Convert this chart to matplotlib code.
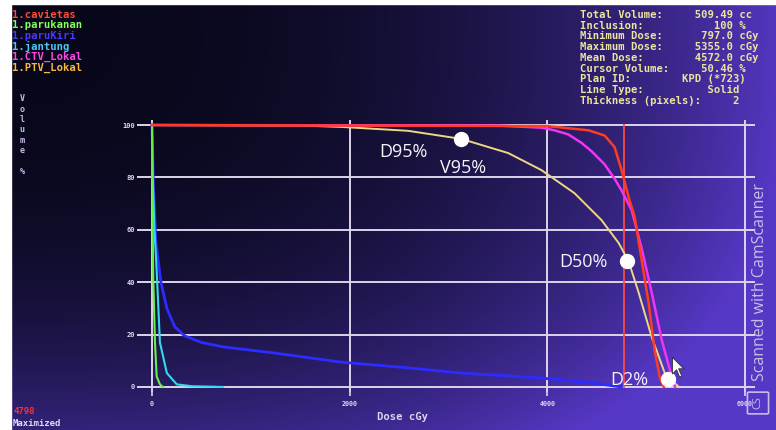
import numpy as np
import matplotlib.pyplot as plt
from matplotlib.patches import Rectangle, FancyBboxPatch
from matplotlib.path import Path

#%% DVH curves (dose cGy, volume %)
cavietas_dose = [0, 4000, 4416, 4579, 4680, 4751, 4822, 4883, 4954, 5025, 5086, 5137, 5177]
cavietas_vol = [100, 99.6, 98, 96, 91.6, 82.8, 72.5, 65, 48.5, 32, 14, 3.8, 0]

ctv_dose = [0, 3500, 3940, 4071, 4213, 4345, 4447, 4579, 4680, 4751, 4853, 4954, 5056, 5157, 5259, 5290]
ctv_vol = [100, 99.8, 99, 98, 96.4, 93.2, 90, 85, 79.5, 75, 67.5, 53, 36, 18, 3.8, 0]

ptv_dose = [0, 1500, 1910, 2590, 3130, 3604, 3940, 4274, 4548, 4721, 4822, 4924, 5056, 5188, 5330]
ptv_vol = [100, 99.8, 99.3, 97.8, 94.7, 89.3, 82.8, 74, 63.7, 55, 48, 36, 19, 5.3, 0]

parukiri_dose = [0, 15, 40, 90, 150, 230, 330, 500, 720, 1230, 1910, 2590, 3130, 3940, 4400, 4750]
parukiri_vol = [100, 75, 55, 40, 30, 23, 19.5, 17, 15.3, 13, 9.5, 7.3, 5.3, 3.4, 1.8, 0]

parukanan_dose = [0, 3, 7, 12, 30, 47, 80, 110]
parukanan_vol = [100, 80, 60, 42, 17, 4, 1, 0]

jantung_dose = [0, 8, 25, 50, 80, 150, 250, 400, 720]
jantung_vol = [100, 80, 60, 42, 17, 5.3, 1, 0.3, 0]

cursor_dose = 4780

# dose points marked on the PTV curve
mark_labels = ['D95%', 'D50%', 'D2%']
mark_dose = [3130, 4810, 5225]
mark_vol = [94.6, 48, 3]

x_ticks = [0, 2000, 4000, 6000]
y_ticks = [0, 20, 40, 60, 80, 100]

legend_names = ['1.cavietas', '1.parukanan', '1.paruKiri', '1.jantung', '1.CTV_Lokal', '1.PTV_Lokal']
legend_colors = ['#ff4a34', '#86ff5a', '#4a36ff', '#4ccaf2', '#ff46e6', '#f6b848']

info_labels = ['Total Volume:', 'Inclusion:', 'Minimum Dose:', 'Maximum Dose:', 'Mean Dose:',
               'Cursor Volume:', 'Plan ID:', 'Line Type:', 'Thickness (pixels):']
info_values = ['509.49', '100', '797.0', '5355.0', '4572.0', '50.46', 'KPD (*723)', 'Solid', '2']
info_units = ['cc', '%', 'cGy', 'cGy', 'cGy', '%', '', '', '']
info_end = [24, 24, 24, 24, 24, 24, 26, 25, 25]

#%% figure + photo-like background
W, H = 776, 430
fig = plt.figure(figsize=(W / 100, H / 100), dpi=100)

bg = fig.add_axes([0, 0, 1, 1])
yy, xx = np.mgrid[0:1:200j, 0:1:400j]
w = np.clip(0.95 * xx ** 2.6 + 0.55 * yy ** 3, 0, 1)
dark = np.array([0.03, 0.03, 0.10])
purple = np.array([0.34, 0.22, 0.78])
bg.imshow(dark + (purple - dark) * w[..., None], extent=[0, 1, 0, 1], origin='upper', aspect='auto')
bg.add_patch(Rectangle((0, 0), 11 / W, 1, color='white', transform=bg.transAxes))
bg.add_patch(Rectangle((0, 1 - 4 / H), 1, 4 / H, color='white', transform=bg.transAxes))
bg.set_xlim(0, 1)
bg.set_ylim(0, 1)
bg.axis('off')

#%% DVH axes
ax = fig.add_axes([137.2 / W, 1 - 392.2 / H, 617.7 / W, 272.4 / H])
ax.set_facecolor('none')
ax.set_xlim(-150, 6100)
ax.set_ylim(-2, 102)
for s in ax.spines.values():
    s.set_visible(False)
grid_c = '#ddd4ea'
ax.set_xticks(x_ticks)
ax.set_yticks(y_ticks)
ax.grid(True, color=grid_c, lw=1.4)
ax.set_axisbelow(True)
ax.tick_params(axis='x', length=3, color=grid_c, width=1.2, pad=3, labelsize=4.8, labelcolor='#e0d8ec')
ax.tick_params(axis='y', length=0, pad=1.5, labelsize=5, labelcolor='#e0d8ec')
for lab in ax.get_xticklabels() + ax.get_yticklabels():
    lab.set_family('DejaVu Sans Mono')
    lab.set_fontweight('bold')

ax.plot(parukiri_dose, parukiri_vol, color='#2c2cff', lw=2.0, clip_on=False)
ax.plot(jantung_dose, jantung_vol, color='#34d8ea', lw=1.5, clip_on=False)
ax.plot(parukanan_dose, parukanan_vol, color='#66f046', lw=1.5, clip_on=False)
ax.plot([cursor_dose, cursor_dose], [0, 100], color='#ff4848', lw=1.3)
ax.plot(ptv_dose, ptv_vol, color='#ecd884', lw=1.4, clip_on=False)
ax.plot(ctv_dose, ctv_vol, color='#f234f2', lw=1.8, clip_on=False)
ax.plot(cavietas_dose, cavietas_vol, color='#ff3c22', lw=1.8, clip_on=False)

ax.plot(mark_dose, mark_vol, 'o', color='white', ms=10, zorder=5, clip_on=False)
ann = dict(color='#f4f4f8', fontsize=13, family='Open Sans', ha='center', va='center',
           textcoords='offset points')
ax.annotate(mark_labels[0], (mark_dose[0], mark_vol[0]), xytext=(-42, -9.5), **ann)
ax.annotate('V95%', (mark_dose[0], mark_vol[0]), xytext=(1.5, -20.5), **ann)
ax.annotate(mark_labels[1], (mark_dose[1], mark_vol[1]), xytext=(-32, -0.5), **ann)
ax.annotate(mark_labels[2], (mark_dose[2], mark_vol[2]), xytext=(-28, -0.5), **ann)

# mouse pointer
arrow = Path([(0, 0), (0, -16), (4, -12), (7, -19), (9, -18), (6, -11), (11, -11), (0, 0)])
ax.plot([5262], [11.5], marker=arrow, ms=28, color='white', mec='#303030', mew=0.6, zorder=6)

#%% screen texts
mono = dict(family='DejaVu Sans Mono', fontweight='bold')
for i, (name, c) in enumerate(zip(legend_names, legend_colors)):
    fig.text(12 / W, 1 - (15 + 10.5 * i) / H, name, color=c, fontsize=7.6, va='center', **mono)

for i in range(len(info_labels)):
    val = info_values[i]
    line = info_labels[i].ljust(info_end[i] - len(val)) + val
    if info_units[i]:
        line += ' ' + info_units[i]
    fig.text(580 / W, 1 - (15 + 10.7 * i) / H, line, color='#ece49e', fontsize=7.6, va='center', **mono)

fig.text(22 / W, 1 - 135 / H, 'V\no\nl\nu\nm\ne\n \n%', color='#c8b8e4', fontsize=6,
         ha='center', va='center', linespacing=1.2, **mono)
fig.text(402 / W, 1 - 417 / H, 'Dose cGy', color='#dcd4ec', fontsize=7.6, ha='center', va='center', **mono)
fig.text(13 / W, 1 - 412 / H, '4798', color='#ff3030', fontsize=6.5, va='center', **mono)
fig.text(13 / W, 1 - 423 / H, 'Maximized', color='#e4dcf0', fontsize=6.5, va='center', **mono)

fig.text(760 / W, 1 - 282 / H, 'Scanned with CamScanner', rotation=90, color='#c6bee6',
         fontsize=11.5, family='Open Sans', ha='center', va='center')
fig.patches.append(FancyBboxPatch((749 / W, 1 - 413 / H), 18 / W, 20 / H, boxstyle='round,pad=0.002',
                                  fc='none', ec='#c6bee6', lw=1.2, transform=fig.transFigure, figure=fig))
fig.text(758 / W, 1 - 403 / H, 'CS', rotation=90, color='#c6bee6', fontsize=8,
         family='Open Sans', ha='center', va='center')

fig.savefig('out.png', dpi=100)
